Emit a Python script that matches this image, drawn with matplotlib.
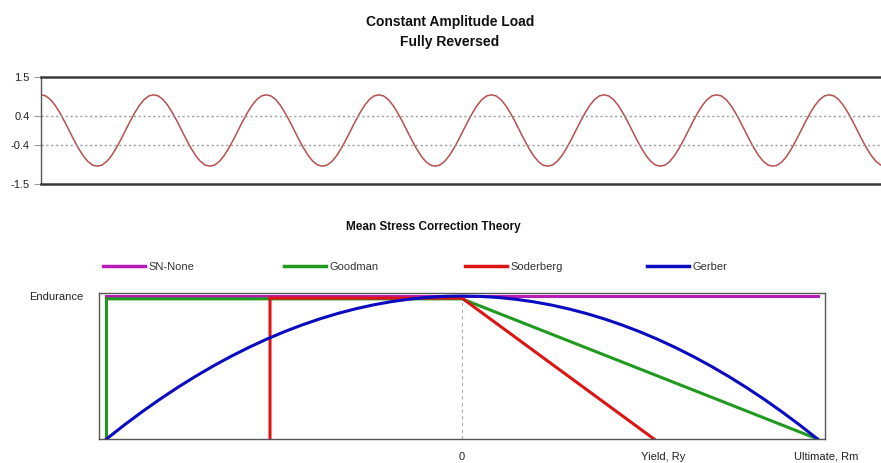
import numpy as np
import matplotlib
matplotlib.use("Agg")
import matplotlib.pyplot as plt
import matplotlib.transforms as mtransforms
from matplotlib.lines import Line2D

# ---------------- data ----------------
# one load cycle (normalised amplitude)
load_cycle = [1.00, 0.97, 0.87, 0.71, 0.50, 0.26, 0.00, -0.26, -0.50, -0.71, -0.87, -0.97,
              -1.00, -0.97, -0.87, -0.71, -0.50, -0.26, 0.00, 0.26, 0.50, 0.71, 0.87, 0.97]
n_cycles = 8
load_yticks = [1.5, 0.4, -0.4, -1.5]
load_yticklabels = ["1.5", "0.4", "-0.4", "-1.5"]

# mean stress correction (mean stress / Rm, amplitude / endurance)
yield_ratio = 0.54
sn_none_x = [-1.0, 1.0]
sn_none_y = [1.0, 1.0]
goodman_x = [-1.0, -1.0, 0.0, 1.0]
goodman_y = [0.0, 0.98, 0.98, 0.0]
soderberg_x = [-yield_ratio, -yield_ratio, 0.0, yield_ratio]
soderberg_y = [0.0, 0.985, 0.985, 0.0]
gerber_x = [-1.0, -0.95, -0.9, -0.85, -0.8, -0.75, -0.7, -0.65, -0.6, -0.55, -0.5,
            -0.45, -0.4, -0.35, -0.3, -0.25, -0.2, -0.15, -0.1, -0.05, 0.0,
            0.05, 0.1, 0.15, 0.2, 0.25, 0.3, 0.35, 0.4, 0.45, 0.5,
            0.55, 0.6, 0.65, 0.7, 0.75, 0.8, 0.85, 0.9, 0.95, 1.0]
gerber_y = [0.0, 0.0975, 0.19, 0.2775, 0.36, 0.4375, 0.51, 0.5775, 0.64, 0.6975, 0.75,
            0.7975, 0.84, 0.8775, 0.91, 0.9375, 0.96, 0.9775, 0.99, 0.9975, 1.0,
            0.9975, 0.99, 0.9775, 0.96, 0.9375, 0.91, 0.8775, 0.84, 0.7975, 0.75,
            0.6975, 0.64, 0.5775, 0.51, 0.4375, 0.36, 0.2775, 0.19, 0.0975, 0.0]
series_names = ["SN-None", "Goodman", "Soderberg", "Gerber"]
series_colors = ["#b81cb8", "#1f9a1f", "#dc1414", "#0a0ac0"]
x_tick_vals = [0.0, yield_ratio, 1.0]
x_tick_labels = ["0", "Yield, Ry", "Ultimate, Rm"]

# ---------------- figure ----------------
W, H = 881, 463
fig = plt.figure(figsize=(W / 100, H / 100), dpi=100)
plt.rcParams["font.family"] = ["Liberation Sans", "DejaVu Sans"]

def fx(px):
    return px / W

def fy(py):
    return 1 - py / H

fig.text(fx(450), fy(32), "Constant Amplitude Load\nFully Reversed", ha="center", va="center",
         fontsize=10, fontweight="bold", color="#111111", linespacing=1.55)

# top axis: load history
ax1 = fig.add_axes([fx(41), fy(184), fx(881 - 41), fy(77) - fy(184)])
vals = np.tile(load_cycle, n_cycles)
t = np.arange(len(vals)) / len(load_cycle)
ax1.plot(t, vals, color="#b5504f", lw=1.1)
ax1.set_xlim(0, (881 - 41) / 112.6)
ax1.set_ylim(-1.5, 1.5)
ax1.set_yticks(load_yticks)
ax1.set_yticklabels(load_yticklabels, fontsize=8, color="#222222")
ax1.tick_params(axis="y", length=5, width=0.8, color="#999999", pad=3)
ax1.set_xticks([])
for yv in [0.4, -0.4]:
    ax1.axhline(yv, color="#9a9a9a", lw=1.0, ls=(0, (1.5, 2)))
ax1.spines["right"].set_visible(False)
for s in ["top", "bottom"]:
    ax1.spines[s].set_linewidth(1.8)
    ax1.spines[s].set_color("#3a3a3a")
ax1.spines["left"].set_linewidth(1.0)
ax1.spines["left"].set_color("#555555")

fig.text(fx(433), fy(227), "Mean Stress Correction Theory", ha="center", va="center",
         fontsize=8.5, fontweight="bold", color="#111111")

# bottom axis: mean stress correction
ax2 = fig.add_axes([fx(99), fy(439), fx(825 - 99), fy(293) - fy(439)])
ax2.axvline(0, color="#aaaaaa", lw=0.8, ls=(0, (3, 3)))
xs = [sn_none_x, goodman_x, soderberg_x, gerber_x]
ys = [sn_none_y, goodman_y, soderberg_y, gerber_y]
for x, y, c in zip(xs, ys, series_colors):
    ax2.plot(x, y, color=c, lw=2.2, solid_joinstyle="miter")
ax2.set_xlim(-1.021, 1.021)
ax2.set_ylim(0, 1.021)
ax2.set_yticks([1.0])
ax2.set_yticklabels(["Endurance"], fontsize=8, color="#222222")
ax2.set_xticks(x_tick_vals)
ax2.set_xticklabels(x_tick_labels, fontsize=8, color="#222222")
ax2.tick_params(axis="x", length=0, pad=9)
ax2.tick_params(axis="y", length=0, pad=11)
offset = mtransforms.ScaledTranslation(9 / 100, 0, fig.dpi_scale_trans)
for lbl in ax2.get_xticklabels()[1:]:
    lbl.set_transform(lbl.get_transform() + offset)
for s in ax2.spines.values():
    s.set_linewidth(1.0)
    s.set_color("#555555")

# legend entries, one per column
legend_x = [103, 284, 465, 647]
for name, c, lx in zip(series_names, series_colors, legend_x):
    h = Line2D([], [], color=c, lw=2.5)
    lg = fig.legend([h], [name], loc="center left", bbox_to_anchor=(fx(lx), fy(267)),
                    frameon=False, fontsize=8, handlelength=3.8, handletextpad=0.3,
                    borderaxespad=0, borderpad=0)
    for tx in lg.get_texts():
        tx.set_color("#333333")
        tx.set_va("baseline")

fig.savefig("out.png", dpi=100)
